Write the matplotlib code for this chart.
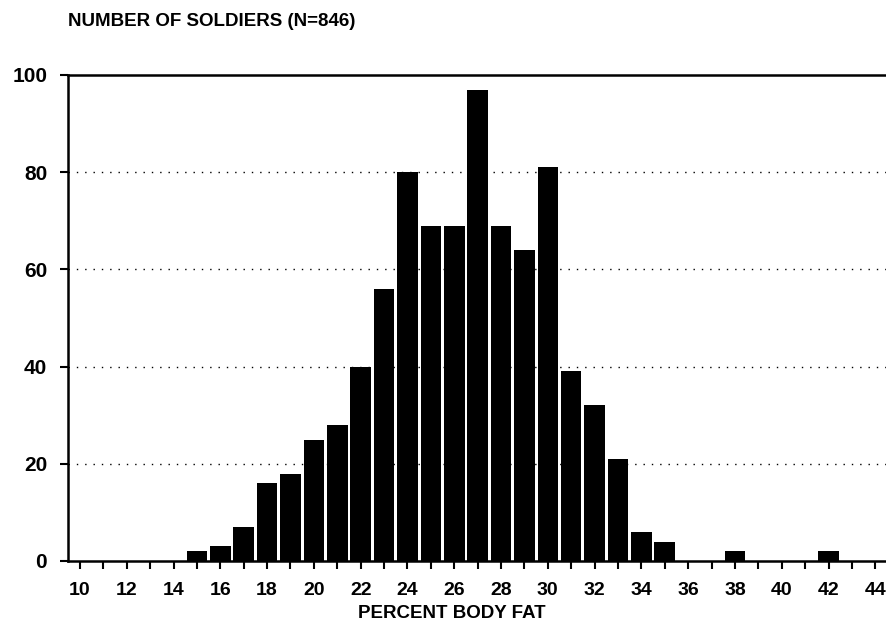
import matplotlib
matplotlib.use("Agg")
import matplotlib.pyplot as plt
from matplotlib import font_manager as fm

# ---- data ----
body_fat = [15, 16, 17, 18, 19, 20, 21, 22, 23, 24, 25, 26, 27, 28, 29, 30, 31, 32, 33, 34, 35, 38, 42]
soldiers = [2, 3, 7, 16, 18, 25, 28, 40, 56, 80, 69, 69, 97, 69, 64, 81, 39, 32, 21, 6, 4, 2, 2]
y_ticks = [0, 20, 40, 60, 80, 100]
title_text = "NUMBER OF SOLDIERS (N=846)"
x_label_text = "PERCENT BODY FAT"

names = {f.name for f in fm.fontManager.ttflist}
narrow = "Liberation Sans Narrow" if "Liberation Sans Narrow" in names else "Liberation Sans"
plt.rcParams["font.family"] = [narrow, "DejaVu Sans"]

fig = plt.figure(figsize=(8.87, 6.4), dpi=100)
ax = fig.add_axes([68 / 887, 79 / 640, 1 - 68 / 887, (561 - 75) / 640])

# dotted grid lines
for yv in [20, 40, 60, 80]:
    ax.axhline(yv, color="black", lw=1.0, ls=(0, (1, 5)), zorder=0)

ax.bar(body_fat, soldiers, width=0.88, color="black", zorder=2)

ax.set_xlim(9.49, 44.5)
ax.set_ylim(0, 100)

ax.set_xticks(range(10, 45))
ax.set_xticklabels([str(v) if v % 2 == 0 else "" for v in range(10, 45)])
ax.set_yticks(y_ticks)
ax.set_yticklabels([str(v) for v in y_ticks])

ax.tick_params(axis="x", direction="out", length=6, width=1.5, pad=9,
               labelsize=14)
ax.tick_params(axis="y", direction="out", length=6, width=1.5, pad=9,
               labelsize=15)
for lab in ax.get_xticklabels() + ax.get_yticklabels():
    lab.set_fontweight("bold")

for s in ["left", "bottom", "top"]:
    ax.spines[s].set_linewidth(1.8)
ax.spines["right"].set_visible(False)

fig.text(68 / 887, 1 - 21 / 640, title_text, fontsize=13.5, va="center", ha="left",
         fontweight="bold")
fig.text(452 / 887, 1 - 613 / 640, x_label_text, fontsize=13.5, va="center", ha="center",
         fontweight="bold")

fig.savefig("out.png", dpi=100)
